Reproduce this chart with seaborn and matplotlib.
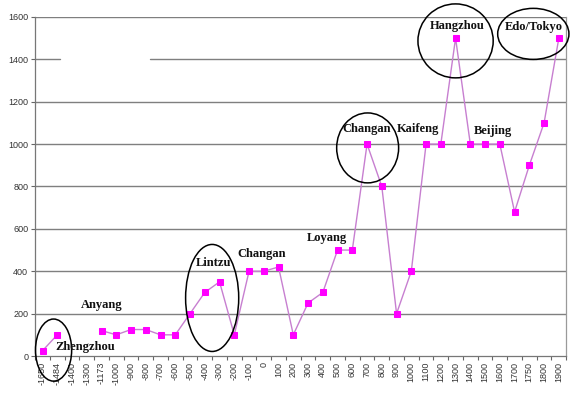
import numpy as np
import pandas as pd
import matplotlib
matplotlib.use("Agg")
import matplotlib.pyplot as plt
import seaborn as sns
from matplotlib.patches import Ellipse
from matplotlib.ticker import FixedLocator, NullFormatter

years = ["-1650", "-1484", "-1400", "-1300", "-1173", "-1000", "-900", "-800", "-700", "-600",
         "-500", "-400", "-300", "-200", "-100", "0", "100", "200", "300", "400",
         "500", "600", "700", "800", "900", "1000", "1100", "1200", "1300", "1400",
         "1500", "1600", "1700", "1750", "1800", "1900"]
population = [25, 100, np.nan, np.nan, 120, 100, 125, 125, 100, 100,
              200, 300, 350, 100, 400, 400, 420, 100, 250, 300,
              500, 500, 1000, 800, 200, 400, 1000, 1000, 1500, 1000,
              1000, 1000, 680, 900, 1100, 1500]
city_labels = ["Zhengzhou", "Anyang", "Lintzu", "Changan", "Loyang",
               "Changan", "Kaifeng", "Hangzhou", "Beijing", "Edo/Tokyo"]

sns.set_theme(style="white")
plt.rcParams['font.family'] = ['Liberation Sans', 'DejaVu Sans']

fig = plt.figure(figsize=(5.76, 3.94), dpi=100)
ax = fig.add_axes([0.061, 0.0964, 0.922, 0.8606])

df = pd.DataFrame({"idx": np.arange(len(years)), "year": years, "pop": population})
df["seg"] = df["pop"].isna().cumsum()
df = df.dropna()

sns.lineplot(data=df, x="idx", y="pop", units="seg", estimator=None, ax=ax,
             color="#C77FD0", linewidth=1.0, marker="s", markersize=5,
             markerfacecolor="#FF00FF", markeredgecolor="#FF00FF", zorder=3)

ax.set_xlim(-0.5, len(years) - 0.5)
ax.set_ylim(0, 1600)
ax.set_yticks(np.arange(0, 1601, 200))
ax.set_yticklabels([str(v) for v in range(0, 1601, 200)])
ax.tick_params(axis="y", labelsize=6.5, labelcolor="#333333", length=3, width=0.8,
               color="#666666", direction="out", left=True, pad=2)

ax.set_xticks(np.arange(len(years)))
ax.set_xticklabels(years)
ax.tick_params(axis="x", which="major", length=0, pad=4, labelsize=6.5,
               labelrotation=90, labelcolor="#333333")
ax.xaxis.set_minor_locator(FixedLocator(np.arange(len(years) + 1) - 0.5))
ax.xaxis.set_minor_formatter(NullFormatter())
ax.tick_params(axis="x", which="minor", length=3, width=0.8, color="#666666",
               direction="out", bottom=True)
ax.set_xlabel("")
ax.set_ylabel("")

for v in range(200, 1601, 200):
    if v == 1400:
        ax.axhline(v, xmax=0.047, color="#7f7f7f", linewidth=1.0, zorder=1)
        ax.axhline(v, xmin=0.217, color="#7f7f7f", linewidth=1.0, zorder=1)
    else:
        ax.axhline(v, color="#7f7f7f", linewidth=1.0, zorder=1)

ax.spines["top"].set_visible(False)
ax.spines["right"].set_color("#9a9a9a")
ax.spines["left"].set_color("#777777")
ax.spines["bottom"].set_color("#777777")
for s in ax.spines.values():
    s.set_linewidth(0.9)

label_pos = [(2.86, 42), (4.0, 241), (11.56, 439), (14.83, 481), (19.25, 557),
             (21.97, 1071), (25.44, 1071), (28.1, 1558), (30.5, 1062), (33.27, 1553)]
for txt, (x, y) in zip(city_labels, label_pos):
    ax.text(x, y, txt, ha="center", va="center", fontsize=9, fontweight="bold",
            family=["Liberation Serif", "DejaVu Serif"], color="#111111", zorder=5)

ellipses = [(0.75, 28, 2.45, 293), (11.5, 274, 3.6, 505), (22.04, 982, 4.2, 330),
            (28.0, 1487, 5.1, 349), (33.27, 1520, 4.83, 241)]
for cx, cy, w, h in ellipses:
    e = Ellipse((cx, cy), w, h, fill=False, edgecolor="black", linewidth=1.1, zorder=4)
    e.set_clip_on(False)
    ax.add_patch(e)

fig.savefig("out.png", dpi=100)
